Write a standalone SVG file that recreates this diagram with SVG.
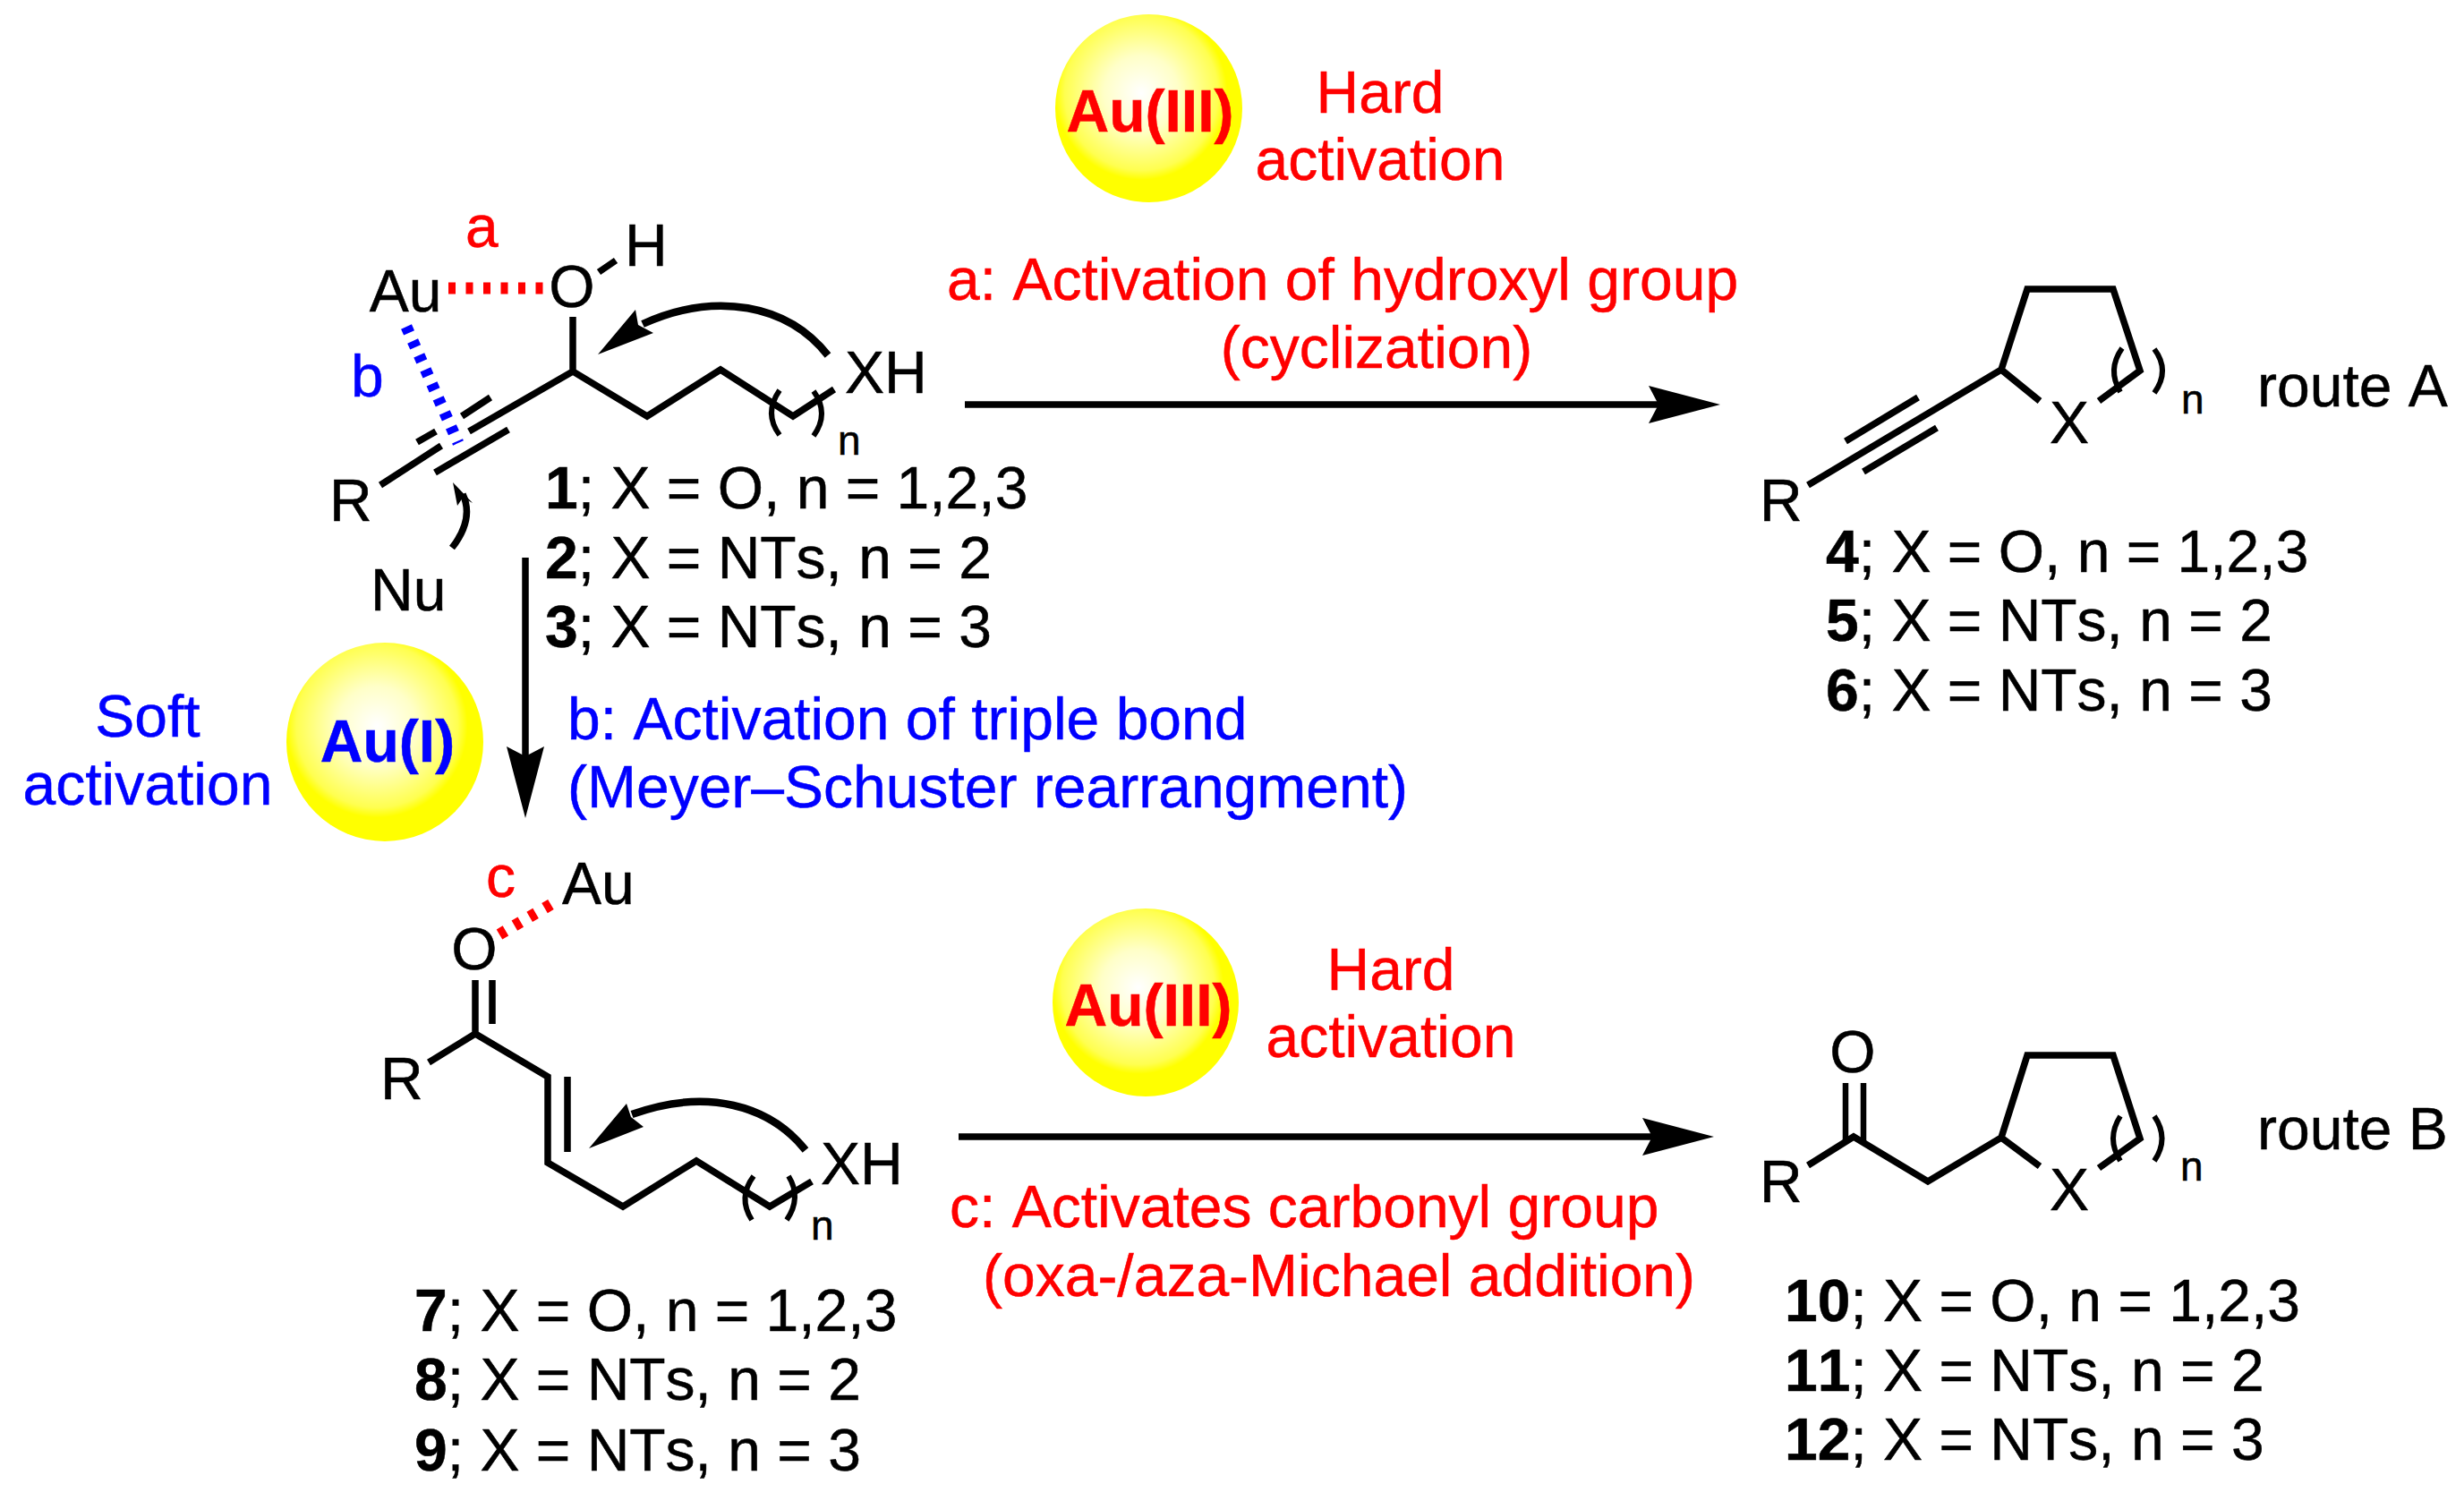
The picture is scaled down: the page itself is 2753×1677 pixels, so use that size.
<svg xmlns="http://www.w3.org/2000/svg" width="2753" height="1677" viewBox="0 0 2753 1677">
<style>
text{font-family:"Liberation Sans",Arial,sans-serif;font-size:66px;fill:#000;stroke:#000;stroke-width:0.5;font-kerning:none}
.r{fill:#ff0000;stroke:#ff0000}.bl{fill:#0000ff;stroke:#0000ff}.m{text-anchor:middle}
.au{font-weight:bold;font-size:66px;text-anchor:middle}
.n{font-size:46px}
tspan.b{font-weight:bold}
.bd{fill:none;stroke:#000;stroke-width:7.5;stroke-linejoin:miter}
.thin{stroke-width:6.5}
.par{fill:none;stroke:#000;stroke-width:6}
.arr{fill:none;stroke:#000;stroke-width:7.5}
.cur{fill:none;stroke:#000;stroke-width:8.5}
.rd{fill:none;stroke:#ff0000;stroke-width:13;stroke-dasharray:8 11.5}
.bd2{fill:none;stroke:#0000ff;stroke-width:13;stroke-dasharray:7.5 10}
</style>
<defs>
<radialGradient id="ball" cx="0.46" cy="0.42" r="0.5">
<stop offset="0" stop-color="#ffffff"/><stop offset="0.4" stop-color="#ffffc8"/><stop offset="0.82" stop-color="#ffff50"/><stop offset="0.92" stop-color="#ffff00"/><stop offset="1" stop-color="#ffff00"/>
</radialGradient>
</defs>
<rect width="2753" height="1677" fill="#ffffff"/>
<g id="connectors">
<line class="arr" x1="1078" y1="452" x2="1860" y2="452"/><polygon points="1922,452 1842,431 1853,452 1842,473"/>
<line class="arr" x1="587" y1="623" x2="587" y2="850"/><polygon points="587,914 566,834 587,845 608,834"/>
<line class="arr" x1="1071" y1="1270" x2="1855" y2="1270"/><polygon points="1915,1270 1835,1249 1846,1270 1835,1291"/>
</g>
<g id="sphere-au3-top"><ellipse cx="1283.5" cy="121" rx="104.5" ry="105" fill="url(#ball)"/><text class="au r" x="1285" y="147">Au(III)</text></g>
<g id="label-hard-top"><text class="r m" x="1542" y="126">Hard</text><text class="r m" x="1542" y="201">activation</text></g>
<g id="sphere-au1"><ellipse cx="430" cy="829" rx="110" ry="111" fill="url(#ball)"/><text class="au bl" x="433" y="851">Au(I)</text></g>
<g id="label-soft"><text class="bl m" x="165" y="823">Soft</text><text class="bl m" x="165" y="899">activation</text></g>
<g id="sphere-au3-bottom"><ellipse cx="1280" cy="1120" rx="104" ry="105" fill="url(#ball)"/><text class="au r" x="1283" y="1146">Au(III)</text></g>
<g id="label-hard-bottom"><text class="r m" x="1554" y="1106">Hard</text><text class="r m" x="1554" y="1181">activation</text></g>
<g id="label-a"><text class="r" x="1058" y="335">a: Activation of hydroxyl group</text><text class="r m" x="1538" y="411">(cyclization)</text></g>
<g id="label-b"><text class="bl" x="634" y="826">b: Activation of triple bond</text><text class="bl" x="634" y="902">(Meyer–Schuster rearrangment)</text></g>
<g id="label-c"><text class="r" x="1061" y="1371">c: Activates carbonyl group</text><text class="r" x="1098" y="1448">(oxa-/aza-Michael addition)</text></g>
<g id="substrate-1">
<text class="m" x="453" y="348">Au</text><text class="r" x="520" y="276">a</text><text class="m" x="639" y="343">O</text><text x="698" y="297">H</text>
<text class="bl" x="392" y="443">b</text><text x="944" y="439">XH</text><text class="n" x="936" y="508">n</text><text x="368" y="582">R</text><text x="414" y="682">Nu</text>
<path class="bd" d="M640 354V415L723 465L805 413L886 465L932 435M669 304L688 291M640 415L524 482M493 498L425 542M466 494L487 482M516 465L548 444M486 528L568 480"/>
<path class="par" d="M871 436Q853 462 871 486M909 437Q927 462 909 487"/>
<line class="rd" x1="501" y1="322" x2="608" y2="322"/>
<line class="bd2" x1="454" y1="365" x2="512" y2="495"/>
<path class="cur" d="M925 397C880 340 800 325 718 362"/><polygon points="668,396 710,346 713,363 730,372"/>
<path class="bd" d="M505 612Q530 580 517 552"/><polygon points="506,539 528,562 517,556 511,565"/>
</g>
<g id="product-1-list"><text x="609" y="568"><tspan class="b">1</tspan>; X = O, n = 1,2,3</text><text x="609" y="646"><tspan class="b">2</tspan>; X = NTs, n = 2</text><text x="609" y="723"><tspan class="b">3</tspan>; X = NTs, n = 3</text></g>
<g id="product-a">
<text x="1966" y="582">R</text><text class="m" x="2312" y="495">X</text><text class="n" x="2437" y="462">n</text><text x="2522" y="454">route A</text>
<path class="bd" d="M2020 542L2236 413L2265 323H2361L2391 414L2345 448M2236 413L2279 448M2062 493L2143 444M2082 527L2164 478"/>
<path class="par" d="M2371 389Q2354 413 2369 438M2407 390Q2425 414 2407 439"/>
</g>
<g id="product-a-list"><text x="2040" y="639"><tspan class="b">4</tspan>; X = O, n = 1,2,3</text><text x="2040" y="716"><tspan class="b">5</tspan>; X = NTs, n = 2</text><text x="2040" y="794"><tspan class="b">6</tspan>; X = NTs, n = 3</text></g>
<g id="enone">
<text class="r" x="543" y="1002">c</text><text x="628" y="1010">Au</text><text class="m" x="530" y="1083">O</text><text x="425" y="1228">R</text><text x="917" y="1323">XH</text><text class="n" x="906" y="1385">n</text>
<path class="bd" d="M531 1095V1155M550 1095V1144M479 1187L531 1155L612 1203V1299L696 1348L778 1297L860 1348L907 1320M634 1203V1287"/>
<path class="par" d="M842 1314Q824 1338 840 1363M881 1314Q896 1338 879 1363"/>
<line class="rd" x1="558" y1="1044" x2="618" y2="1009"/>
<path class="cur" d="M900 1285C860 1235 790 1215 706 1245"/><polygon points="658,1283 700,1233 705,1248 719,1259"/>
</g>
<g id="enone-list"><text x="463" y="1487"><tspan class="b">7</tspan>; X = O, n = 1,2,3</text><text x="463" y="1564"><tspan class="b">8</tspan>; X = NTs, n = 2</text><text x="463" y="1643"><tspan class="b">9</tspan>; X = NTs, n = 3</text></g>
<g id="product-b">
<text class="m" x="2070" y="1198">O</text><text x="1966" y="1343">R</text><text class="m" x="2312" y="1352">X</text><text class="n" x="2436" y="1319">n</text><text x="2522" y="1284">route B</text>
<path class="bd" d="M2020 1302L2071 1270L2154 1320L2236 1271L2265 1179H2361L2391 1272L2345 1305M2236 1271L2279 1303"/>
<path class="bd thin" d="M2062 1210V1275M2082 1210V1275"/>
<path class="par" d="M2369 1247Q2353 1272 2369 1297M2407 1247Q2424 1272 2407 1297"/>
</g>
<g id="product-b-list"><text x="1994" y="1476"><tspan class="b">10</tspan>; X = O, n = 1,2,3</text><text x="1994" y="1554"><tspan class="b">11</tspan>; X = NTs, n = 2</text><text x="1994" y="1631"><tspan class="b">12</tspan>; X = NTs, n = 3</text></g>
</svg>
